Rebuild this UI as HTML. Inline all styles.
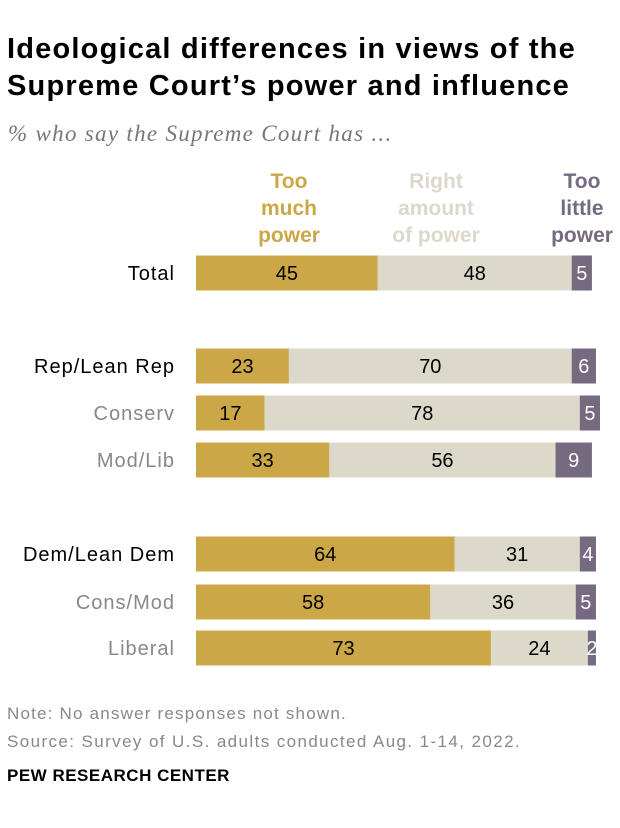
<!DOCTYPE html>
<html><head><meta charset="utf-8"><style>
body{margin:0;width:620px;height:828px;background:#fff;font-family:"Liberation Sans",sans-serif;position:relative;overflow:hidden}
.t{position:absolute;white-space:nowrap}
.lg{position:absolute;width:140px;text-align:center;font-size:21px;font-weight:bold;line-height:27px}
</style></head><body>
<div class="t" style="left:7px;top:31px;font-size:29px;letter-spacing:1.2px;font-weight:bold;line-height:37px;color:#000">Ideological differences in views of the<br>Supreme Court’s power and influence</div>
<div class="t" style="left:8px;top:121px;font-size:23px;letter-spacing:1.3px;font-style:italic;color:#777;font-family:'Liberation Serif',serif">% who say the Supreme Court has ...</div>
<div class="lg" style="left:219px;top:168px;color:#CCA747">Too<br>much<br>power</div>
<div class="lg" style="left:366px;top:168px;color:#DCD8CA">Right<br>amount<br>of power</div>
<div class="lg" style="left:512px;top:168px;color:#756A80">Too<br>little<br>power</div>
<svg id="c" width="620" height="828" style="position:absolute;left:0;top:0"></svg>
<div class="t" style="left:7px;top:704px;font-size:17px;letter-spacing:1.2px;color:#888">Note: No answer responses not shown.</div>
<div class="t" style="left:7px;top:732px;font-size:17px;letter-spacing:1.4px;color:#888">Source: Survey of U.S. adults conducted Aug. 1-14, 2022.</div>
<div class="t" style="left:7px;top:766px;font-size:17px;letter-spacing:0.5px;font-weight:bold;color:#000">PEW RESEARCH CENTER</div>
<script>
const categories=["Total","Rep/Lean Rep","Conserv","Mod/Lib","Dem/Lean Dem","Cons/Mod","Liberal"];
const tooMuch=[45,23,17,33,64,58,73];
const rightAmount=[48,70,78,56,31,36,24];
const tooLittle=[5,6,5,9,4,5,2];
const rowCenters=[273,366,413,460,554,602,648];
const isSub=[false,false,true,true,false,true,true];
const svg=document.getElementById('c');
const NS='http://www.w3.org/2000/svg';
const x0=196, k=4.04, bh=35;
const xs=v=>x0+v*k;
function el(t,a){const e=document.createElementNS(NS,t);for(const n in a)e.setAttribute(n,a[n]);svg.appendChild(e);return e;}
categories.forEach((c,i)=>{
  const cy=rowCenters[i], y=cy-bh/2;
  const lab=el('text',{x:175,y:cy+7,'text-anchor':'end','font-size':20,'letter-spacing':1,fill:isSub[i]?'#888':'#000'});
  lab.textContent=c;
  
  
  const segs=[[tooMuch[i],'#CCA747','#000','too-much'],[rightAmount[i],'#DCD8CA','#000','right-amount'],[tooLittle[i],'#756A80','#fff','too-little']];
  let s=0;
  segs.forEach(([v,col,tc,nm])=>{
    const r=el('rect',{x:xs(s),y:y,width:xs(s+v)-xs(s),height:bh,fill:col});
    
    
    const t=el('text',{x:(xs(s)+xs(s+v))/2,y:cy+7,'text-anchor':'middle','font-size':20,fill:tc});
    t.textContent=v;
    
    
    s+=v;
  });
});
</script>
</body></html>
